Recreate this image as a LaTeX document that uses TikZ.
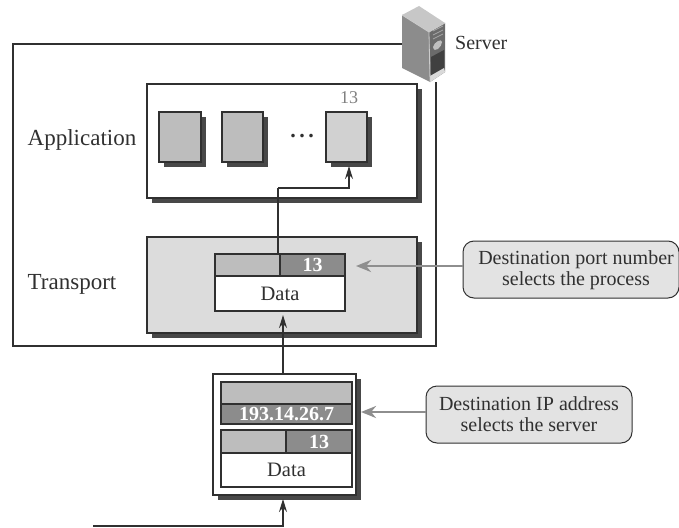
\documentclass[tikz,border=0pt]{standalone}
\usepackage{fontspec}
\setmainfont{Liberation Serif}
\usetikzlibrary{shadows,arrows.meta}
\definecolor{shd}{HTML}{484848}
\definecolor{lin}{HTML}{303030}
\definecolor{ltg}{HTML}{BDBDBD}
\definecolor{dkg}{HTML}{8C8C8C}
\definecolor{pal}{HTML}{DCDCDC}
\definecolor{arr}{HTML}{8E8E8E}
\definecolor{txt}{HTML}{303030}
\newcommand\rbox[6]{\node[#6, minimum width={(#4-#2)*1pt}, minimum height={(#5-#3)*1pt}] (#1) at ({(#2+#4)/2},{(#3+#5)/2}) {};}
\newcommand\lbox[7]{\node[#6, minimum width={(#4-#2)*1pt}, minimum height={(#5-#3)*1pt}] (#1) at ({(#2+#4)/2},{(#3+#5)/2}) {#7};}
\tikzset{
  base/.style={draw=lin, line width=1.3pt, inner sep=0pt, outer sep=0pt, rectangle},
  shad/.style={general shadow={shadow xshift=4.5pt, shadow yshift=-4.5pt, fill=shd}},
  panel/.style={base, fill=pal, shad},
  appbox/.style={base, fill=white, shad},
  proc/.style={base, fill=#1, shad},
  hlight/.style={base, fill=ltg},
  hdark/.style={base, fill=dkg, text=white, font=\fontsize{20}{20}\selectfont\bfseries},
  databox/.style={base, fill=white, text=txt, font=\fontsize{20.5}{20.5}\selectfont},
  lab/.style={text=txt, inner sep=0pt, font=\fontsize{20}{20}\selectfont},
  bigtext/.style={lab, font=\fontsize{23}{23}\selectfont},
  callout/.style={draw=lin, line width=1pt, fill=pal!80!white, rounded corners=11pt, inner sep=0pt, outer sep=0pt, align=center, text=txt, font=\fontsize{20}{21}\selectfont},
  calltext/.style={inner sep=0pt, align=center, text=txt, font=\fontsize{20}{21}\selectfont},
  conn/.style={draw=lin, line width=1.3pt, -{Stealth[length=13pt,width=8pt]}},
  link/.style={draw=lin, line width=1.3pt},
  grayarrow/.style={draw=arr, line width=2.6pt, -{Stealth[length=15pt,width=12pt]}},
  frameline/.style={draw=lin, line width=1.2pt},
}
\begin{document}
\begin{tikzpicture}[x=1pt,y=-1pt]
\useasboundingbox (0,0) rectangle (679,527);
% server
\node[inner sep=0pt, outer sep=0pt, minimum width=43pt, minimum height=76pt] (server) at (424,44) {};
\coordinate (frameTR) at (436,82);
\draw[frameline] (server.west) -- (13,44) |- (436,346) -- (frameTR);
\fill[color=ltg!85!white] (402,15) -- (419,6) -- (445,23) -- (429,32) -- cycle;
\fill[color=black!45] (402,15) -- (429,32) -- (430,82) -- (402,68) -- cycle;
\fill[color=black!58] (429,32) -- (445,23) -- (445,72) -- (430,82) -- cycle;
\fill[color=black!75] (431,57) -- (444,50) -- (444,70) -- (431,78) -- cycle;
\fill[color=black!25] (433,47) .. controls (434,42) and (442,38) .. (442,42) .. controls (442,47) and (434,54) .. (433,47) -- cycle;
\fill[color=black!15] (430,76) -- (444,68) -- (445,72) -- (430,82) -- cycle;
\draw[white!80!black, line width=.8pt] (402,15) -- (429,32) -- (445,23);
\draw[white!80!black, line width=.8pt] (429,32) -- (430,82);
\foreach \yy in {31,35,39}{\draw[black!35, line width=.8pt] (433,{\yy}) -- (443,{\yy-5});}
\node[lab, anchor=west] (serverlab) at (455,43) {Server};
% application layer
\rbox{app}{147}{84}{417}{198}{appbox}
\node[bigtext] (applab) at (82,140) {Application};
\rbox{p1}{159}{112}{201}{162}{proc=ltg}
\rbox{p2}{222}{112}{263}{162}{proc=ltg}
\rbox{p3}{326}{112}{367}{162}{proc=ltg!70!white}
\node[lab, anchor=base, font=\fontsize{22}{22}\selectfont\bfseries] (dots) at (302,137) {.\hspace{3.5pt}.\hspace{3.5pt}.};
\node[lab, text=black!50, font=\fontsize{18}{18}\selectfont] (port) at (349,98) {13};
% transport layer
\rbox{trans}{147}{237}{417}{333}{panel}
\node[bigtext, font=\fontsize{23}{23}\selectfont] (translab) at (72,284) {Transport};
\rbox{h1}{215}{254}{280}{276}{hlight}
\lbox{h2}{280}{254}{345}{276}{hdark}{13}
\lbox{d1}{215}{276}{345}{311}{databox}{Data}
% packet
\rbox{pkt}{213}{374}{356}{495}{appbox}
\rbox{iphl}{221}{382}{352}{404}{hlight}
\lbox{iph}{221}{404}{352}{424}{hdark}{193.14.26.7}
\rbox{h3}{221}{430}{286}{453}{hlight}
\lbox{h4}{286}{430}{352}{453}{hdark}{13}
\lbox{d2}{221}{453}{352}{487}{databox}{Data}
% callouts
\rbox{c1}{463}{241}{679}{298}{callout}
\node[calltext] (c1text) at (576,270) {Destination port number\\selects the process};
\lbox{c2}{426}{386}{632}{443}{callout}{Destination IP address\\selects the server}
% connectors
\coordinate (start) at (93,526);
\coordinate (pktin) at (283,499);
\coordinate (intop) at (283,315);
\coordinate (uptop) at (278,188);
\coordinate (apin) at (349,166);
\draw[conn] (start) -| (pktin);
\draw[conn] (pkt.north -| intop) -- (intop);
\draw[link] (uptop) -- (uptop |- h1.north);
\draw[conn] (uptop) -| (apin);
\draw[grayarrow] (c1.west |- 0,266) -- (356,266);
\draw[grayarrow] (c2.west |- 0,412) -- (361,412);
\end{tikzpicture}
\end{document}
